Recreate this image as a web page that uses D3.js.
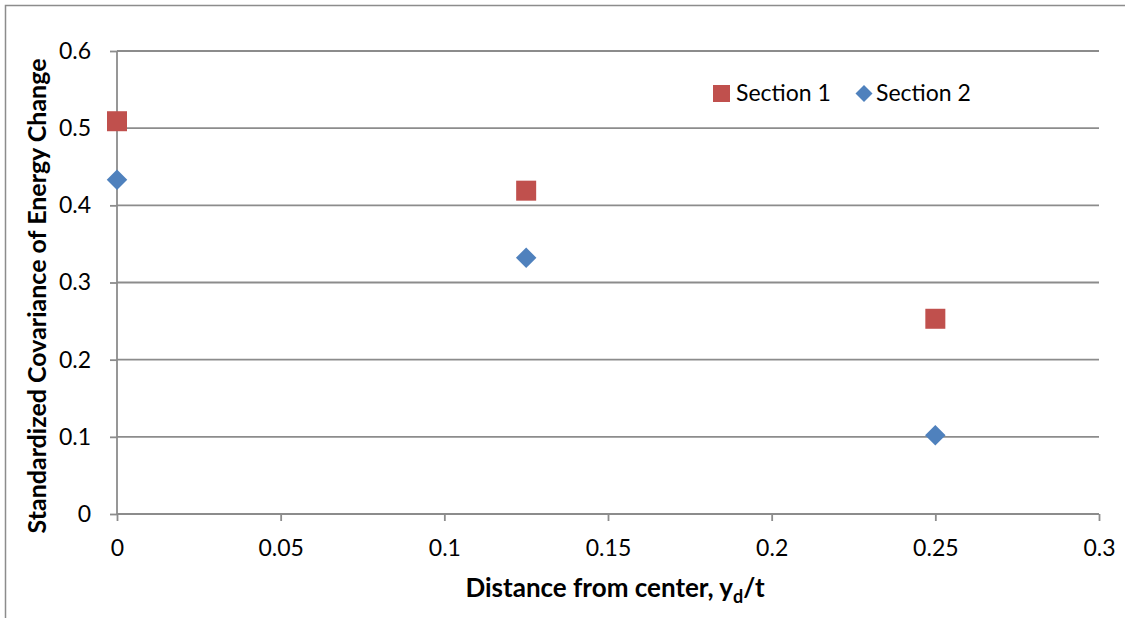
<!DOCTYPE html>
<html>
<head>
<meta charset="utf-8">
<script src="https://cdn.jsdelivr.net/npm/d3@7/dist/d3.min.js"></script>
<style>
  html, body { margin: 0; padding: 0; background: #fff; }
  svg { display: block; }
  text { font-family: Lato, "Open Sans", sans-serif; fill: #000; }
</style>
</head>
<body>
<svg id="chart" width="1125" height="618"></svg>
<script>
// Distance from center (y_d/t) at which each section was sampled
const distances = [0, 0.125, 0.25];
// Standardized covariance of energy change per section
const section1 = [0.509, 0.419, 0.253];
const section2 = [0.433, 0.332, 0.102];
// Axis ticks
const xTicks = [0, 0.05, 0.1, 0.15, 0.2, 0.25, 0.3];
const yTicks = [0, 0.1, 0.2, 0.3, 0.4, 0.5, 0.6];
const seriesNames = ["Section 1", "Section 2"];

const svg = d3.select("#chart");
const W = 1125, H = 618;
const margin = { left: 117, right: 26, top: 51, bottom: 104 };

const x = d3.scaleLinear().domain([0, 0.3]).range([margin.left, W - margin.right]);
const y = d3.scaleLinear().domain([0, 0.6]).range([H - margin.bottom, margin.top]);

const gridColor = "#8c8c8c";
const tickFont = 23;

// Outer chart frame (top and left edges)
svg.append("path")
  .attr("d", `M5.5,${H} L5.5,5.5 L${W},5.5`)
  .attr("fill", "none").attr("stroke", "#8c8c8c").attr("stroke-width", 1.5);

// Horizontal gridlines
svg.append("g").selectAll("line").data(yTicks.filter(d => d > 0)).join("line")
  .attr("x1", x(0)).attr("x2", x(0.3))
  .attr("y1", d => y(d)).attr("y2", d => y(d))
  .attr("stroke", gridColor).attr("stroke-width", 1.8);

// Y axis
const yAxis = svg.append("g").attr("transform", `translate(${x(0)},0)`)
  .call(d3.axisLeft(y).tickValues(yTicks).tickSize(7).tickPadding(19).tickFormat(d => d === 0 ? "0" : d3.format(".1f")(d)));
// X axis
const xAxis = svg.append("g").attr("transform", `translate(0,${y(0)})`)
  .call(d3.axisBottom(x).tickValues(xTicks).tickSize(7).tickPadding(19).tickFormat(d => d === 0 ? "0" : String(+d.toFixed(2))));

[yAxis, xAxis].forEach(g => {
  g.select(".domain").attr("stroke", gridColor).attr("stroke-width", 1.8);
  g.selectAll(".tick line").attr("stroke", gridColor).attr("stroke-width", 1.8);
  g.selectAll(".tick text").attr("font-size", tickFont).attr("font-family", "Lato, sans-serif").attr("fill", "#000");
});
yAxis.select(".domain").attr("d", `M0,${y(0.6)} V${y(0)}`);
xAxis.select(".domain").attr("d", `M${x(0)},0 H${x(0.3)}`);

// Data points
const sq = 20;
svg.append("g").selectAll("rect").data(distances.map((d, i) => [d, section1[i]])).join("rect")
  .attr("x", d => x(d[0]) - sq / 2).attr("y", d => y(d[1]) - sq / 2)
  .attr("width", sq).attr("height", sq).attr("fill", "#C0504D");

const diamond = d3.symbol().type(d3.symbolSquare).size(14.5 * 14.5);
svg.append("g").selectAll("path").data(distances.map((d, i) => [d, section2[i]])).join("path")
  .attr("d", diamond)
  .attr("transform", d => `translate(${x(d[0])},${y(d[1])}) rotate(45)`)
  .attr("fill", "#4F81BD");

// Legend
const leg = svg.append("g");
leg.append("rect").attr("x", 713).attr("y", 85).attr("width", 17).attr("height", 17).attr("fill", "#C0504D");
leg.append("text").attr("x", 736).attr("y", 101).attr("font-size", tickFont).text(seriesNames[0]);
leg.append("path").attr("d", d3.symbol().type(d3.symbolSquare).size(12 * 12))
  .attr("transform", "translate(864,93.5) rotate(45)").attr("fill", "#4F81BD");
leg.append("text").attr("x", 876).attr("y", 101).attr("font-size", tickFont).text(seriesNames[1]);

// Axis titles
const xt = svg.append("text").attr("x", 615).attr("y", 597).attr("text-anchor", "middle")
  .attr("font-size", 26).attr("font-weight", "bold");
xt.append("tspan").text("Distance from center, y");
xt.append("tspan").attr("font-size", 18).attr("dy", 6).text("d");
xt.append("tspan").attr("dy", -6).text("/t");

svg.append("text").attr("transform", "translate(46,296) rotate(-90)")
  .attr("text-anchor", "middle").attr("font-size", 25).attr("font-weight", "bold")
  .text("Standardized Covariance of Energy Change");
</script>
</body>
</html>
